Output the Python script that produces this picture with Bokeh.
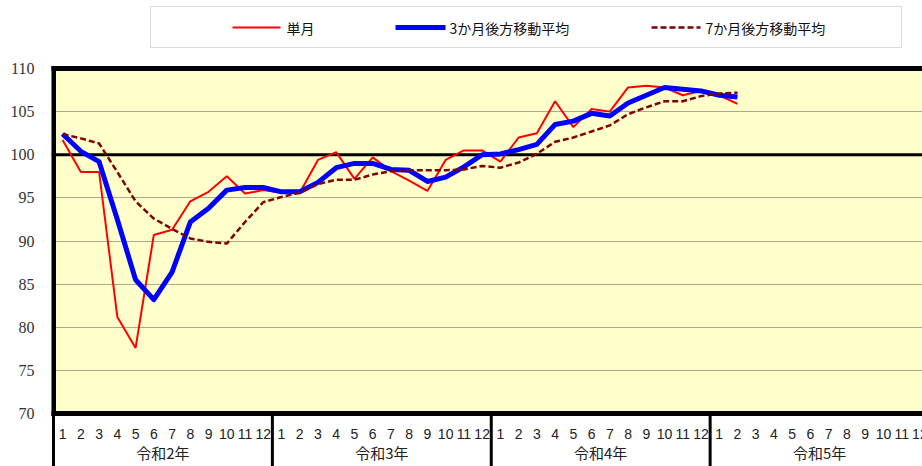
from bokeh.plotting import figure
from bokeh.models import (Span, LabelSet, Arrow, PolyAnnotation, ColumnDataSource,
                          FixedTicker)
from bokeh.core.properties import value
from bokeh.embed import file_html
from bokeh.resources import INLINE

# ---------------- data ----------------
years = ["令和2年", "令和3年", "令和4年", "令和5年"]
months = ["1", "2", "3", "4", "5", "6", "7", "8", "9", "10", "11", "12"]
series_names = ["単月", "3か月後方移動平均", "7か月後方移動平均"]

single = [101.7, 98.0, 98.0, 81.2, 77.6, 90.7, 91.3, 94.6, 95.7, 97.5, 95.5, 95.9,
          95.6, 95.6, 99.4, 100.3, 97.2, 99.7, 98.1, 97.0, 95.8, 99.4, 100.5, 100.5,
          99.2, 102.0, 102.5, 106.2, 103.2, 105.3, 105.0, 107.8, 108.0, 107.8, 106.9, 107.4,
          106.9, 105.9]
avg3 = [102.4, 100.4, 99.2, 92.5, 85.5, 83.2, 86.4, 92.2, 93.8, 95.9, 96.2, 96.2,
        95.7, 95.7, 96.8, 98.5, 99.0, 99.0, 98.3, 98.2, 96.9, 97.4, 98.6, 100.0,
        100.1, 100.6, 101.2, 103.5, 103.9, 104.8, 104.5, 106.0, 106.9, 107.8, 107.6, 107.4,
        106.9, 106.7]
avg7 = [102.4, 101.9, 101.3, 98.0, 94.6, 92.6, 91.4, 90.3, 89.9, 89.7, 92.2, 94.5,
        95.1, 95.6, 96.6, 97.1, 97.1, 97.7, 98.1, 98.2, 98.2, 98.2, 98.3, 98.7,
        98.5, 99.1, 100.1, 101.5, 102.0, 102.7, 103.4, 104.7, 105.5, 106.2, 106.2, 106.8,
        107.1, 107.2]
y_ticks = [70, 75, 80, 85, 90, 95, 100, 105, 110]
base_value = 100

# ---------------- layout ----------------
W, H = 922, 466
FL = 51                 # frame left (room for y labels)
EDGE_X = 53             # pixel of the plot-area left edge
PPM = 18.24             # pixels per month
Y0, Y1 = y_ticks[0], y_ticks[-1]
TOP_PX, BOT_PX = 68, 413
PPU = (BOT_PX - TOP_PX) / (Y1 - Y0)
x_start = -0.5 - (EDGE_X - FL) / PPM
x_end = x_start + (W - FL) / PPM
y_end = Y1 + TOP_PX / PPU
y_start = Y0 - (H - BOT_PX) / PPU


def fx(px):   # pixel x -> data x
    return x_start + (px - FL) / PPM


def fy(py):   # pixel y (from top) -> data y
    return y_end - py / PPU


p = figure(width=W, height=H, x_range=(x_start, x_end), y_range=(y_start, y_end),
           output_backend="svg", toolbar_location=None, x_axis_location=None,
           min_border_left=FL, min_border_right=0, min_border_top=0,
           min_border_bottom=0, background_fill_color="white",
           border_fill_color="white", outline_line_color=None)

p.xgrid.visible = False
p.yaxis.ticker = FixedTicker(ticks=y_ticks)
p.yaxis.major_tick_line_color = None
p.yaxis.minor_tick_line_color = None
p.yaxis.major_tick_out = 0
p.yaxis.major_tick_in = 0
p.yaxis.axis_line_color = None
p.yaxis.major_label_standoff = 17
p.yaxis.major_label_text_font = "Liberation Serif"
p.yaxis.major_label_text_font_size = "16px"
p.yaxis.major_label_text_color = "#333333"
p.ygrid.grid_line_color = "#555555"
p.ygrid.grid_line_dash = "1 1"
p.ygrid.grid_line_width = 1

n_months = len(years) * len(months)

# plot area background
p.quad(left=[-0.5], right=[n_months - 0.5], bottom=[Y0], top=[Y1],
       fill_color="#FFFFCC", line_color=None, level="image")

# base line at 100 (under the series)
p.add_layout(Span(location=base_value, dimension="width", line_color="black",
                  line_width=3, level="underlay"))

xs = list(range(len(single)))
p.line(xs, single, line_color="#FF0000", line_width=2)
p.line(xs, avg3, line_color="#0000FF", line_width=5, line_join="round")
p.line(xs, avg7, line_color="#800000", line_width=2.5, line_dash="6 3")

# plot-area borders
x_right = fx(W + 10)
for (xa, ya, xb, yb, w) in [(-0.5, Y1, x_right, Y1, 5),
                            (-0.5, Y0, x_right, Y0, 5),
                            (-0.5, Y1, -0.5, Y0, 5)]:
    p.add_layout(Arrow(end=None, x_start=xa, y_start=ya, x_end=xb, y_end=yb,
                       line_color="black", line_width=w, line_cap="square"))

# category axis: month numbers, year groups and separators
mx = list(range(n_months))
mt = [months[i % 12] for i in mx]
msrc = ColumnDataSource(dict(x=mx, y=[fy(433)] * n_months, text=mt))
p.add_layout(LabelSet(x="x", y="y", text="text", source=msrc, text_align="center",
                      text_baseline="middle", text_font=value("Liberation Sans"),
                      text_font_size="14px", text_color="#222222"))

ysrc = ColumnDataSource(dict(x=[12 * i + 5.5 for i in range(len(years))],
                             y=[fy(452)] * len(years), text=years))
p.add_layout(LabelSet(x="x", y="y", text="text", source=ysrc, text_align="center",
                      text_baseline="middle", text_font=value("Noto Sans CJK JP"),
                      text_font_size="15px", text_color="#222222"))

for i in range(len(years)):
    sx = 12 * i - 0.5
    p.add_layout(Arrow(end=None, x_start=sx, y_start=Y0, x_end=sx, y_end=fy(H + 5),
                       line_color="black", line_width=3))

# legend (drawn manually, outside the plot area)
lx0, lx1, ly0, ly1 = 150, 901, 6, 47
p.add_layout(PolyAnnotation(xs=[fx(lx0), fx(lx1), fx(lx1), fx(lx0)],
                            ys=[fy(ly0), fy(ly0), fy(ly1), fy(ly1)],
                            fill_color="white", fill_alpha=1,
                            line_color="#888888", line_width=1))
leg_y = fy(27)
samples = [(232, 280, "#FF0000", 2, "solid"),
           (395, 445, "#0000FF", 5, "solid"),
           (651, 700, "#800000", 2.5, "6 3")]
for a, b, c, w, d in samples:
    p.add_layout(Arrow(end=None, x_start=fx(a), y_start=leg_y, x_end=fx(b), y_end=leg_y,
                       line_color=c, line_width=w, line_dash=d))
lsrc = ColumnDataSource(dict(x=[fx(286), fx(449), fx(705)], y=[leg_y] * 3,
                             text=series_names))
p.add_layout(LabelSet(x="x", y="y", text="text", source=lsrc, text_align="left",
                      text_baseline="middle", text_font=value("Noto Sans CJK JP"),
                      text_font_size="14px", text_color="#111111"))

open("out.html", "w").write(file_html(p, INLINE))
